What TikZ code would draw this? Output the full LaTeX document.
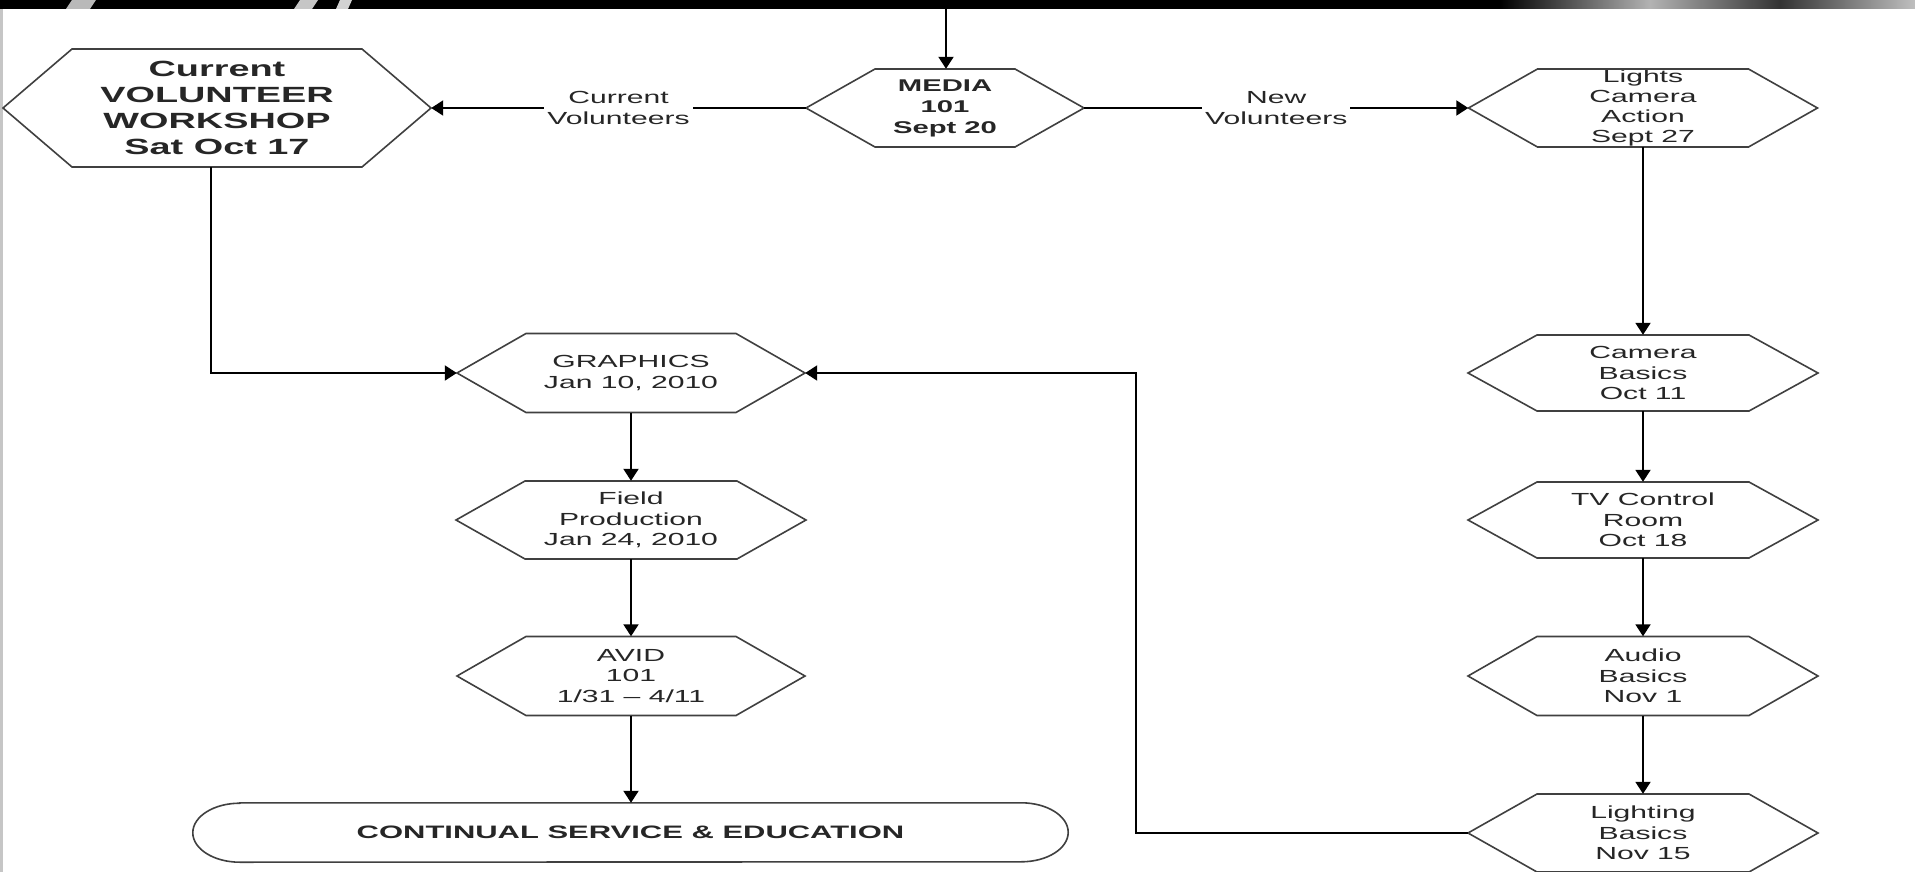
\documentclass[tikz,border=0pt]{standalone}
\usepackage{fontspec}
\setmainfont{Liberation Sans}
\newfontfamily\hexfont[FakeStretch=1.72]{Liberation Sans}
\usetikzlibrary{arrows.meta,calc}
\tikzset{
  hexnode/.style={inner sep=0pt, align=center, text=black!85, font=\hexfont\fontsize{17.5}{20.3}\selectfont},
  boldnode/.style={font=\hexfont\bfseries\fontsize{17}{21}\selectfont},
  hexline/.style={draw=black!75, line width=1.6pt, line join=miter},
  conn/.style={draw=black, line width=2pt, -{Triangle[length=12pt,width=15pt]}},
  lbl/.style={fill=white, inner sep=3pt, align=center, text=black!85, font=\hexfont\fontsize{17.5}{21}\selectfont},
}
% #1 style, #2 name, #3 x, #4 y, #5 width, #6 height, #7 slant, #8 text
\newcommand\hexshape[8]{%
  \node[hexnode,#1,minimum width=#5pt,minimum height=#6pt] (#2) at (#3,#4) {#8};
  \draw[hexline] ([shift={({-#5/2},0)}]#2.center)
    -- ([shift={({-#5/2+#7},{-#6/2})}]#2.center)
    -- ([shift={({#5/2-#7},{-#6/2})}]#2.center)
    -- ([shift={({#5/2},0)}]#2.center)
    -- ([shift={({#5/2-#7},{#6/2})}]#2.center)
    -- ([shift={({-#5/2+#7},{#6/2})}]#2.center) -- cycle;
}
\begin{document}
\begin{tikzpicture}[x=1pt,y=-1pt]
\useasboundingbox (0,0) rectangle (1915,872);
\fill[white] (0,0) rectangle (1915,872);
% dark band at the top
\fill[black] (0,0) rectangle (1915,9);
\fill[gray!55] (72,0) -- (96,0) -- (90,9) -- (66,9) -- cycle;
\fill[gray!45] (300,0) -- (318,0) -- (312,9) -- (294,9) -- cycle;
\fill[gray!35] (340,0) -- (352,0) -- (348,9) -- (336,9) -- cycle;
\shade[left color=black, right color=gray!60] (1500,0) rectangle (1650,9);
\shade[left color=gray!60, right color=black!80] (1650,0) rectangle (1780,9);
\shade[left color=black!80, right color=gray!50] (1780,0) rectangle (1915,9);
\fill[gray!45] (0,9) rectangle (3,872);

% nodes
\hexshape{font=\hexfont\bfseries\fontsize{22}{26}\selectfont}{ws}{217}{108}{428}{118}{69}{Current\\VOLUNTEER\\WORKSHOP\\Sat Oct 17}
\hexshape{boldnode}{media}{945}{108}{278}{78}{69}{MEDIA\\101\\Sept 20}
\hexshape{}{lca}{1643}{108}{349}{78}{69}{Lights\\Camera\\Action\\Sept 27}
\hexshape{}{cb}{1643}{373}{350}{76}{69}{Camera\\Basics\\Oct 11}
\hexshape{}{tv}{1643}{520}{350}{76}{69}{TV Control\\Room\\Oct 18}
\hexshape{}{audio}{1643}{676}{350}{79}{69}{Audio\\Basics\\Nov 1}
\hexshape{}{light}{1643}{833}{350}{78}{69}{Lighting\\Basics\\Nov 15}
\hexshape{}{gfx}{631}{373}{348}{79}{69}{GRAPHICS\\Jan 10, 2010}
\hexshape{}{field}{631}{520}{350}{78}{69}{Field\\Production\\Jan 24, 2010}
\hexshape{}{avid}{631}{676}{348}{79}{69}{AVID\\101\\1/31 – 4/11}

\node[hexnode, font=\hexfont\bfseries\fontsize{18}{22}\selectfont, minimum width=875pt, minimum height=59pt] (cont) at (630.5,832.5) {CONTINUAL SERVICE \& EDUCATION};
\draw[hexline] ([xshift=47pt]cont.north west) -- ([xshift=-47pt]cont.north east)
  arc[start angle=90, end angle=-90, x radius=47pt, y radius=29.5pt]
  -- ([xshift=47pt]cont.south west)
  arc[start angle=270, end angle=90, x radius=47pt, y radius=29.5pt] -- cycle;

% connectors
\coordinate (topin) at (946,9);
\draw[conn] (topin) -- (topin |- media.north);
\draw[conn] (media.west) -- node[lbl, pos=0.5] (lcur) {Current\\Volunteers} (ws.east);
\draw[conn] (media.east) -- node[lbl, pos=0.5] (lnew) {New\\Volunteers} (lca.west);
\draw[conn] (lca.south) -- (cb.north);
\draw[conn] (cb.south) -- (tv.north);
\draw[conn] (tv.south) -- (audio.north);
\draw[conn] (audio.south) -- (light.north);
\draw[conn] ([xshift=-6pt]ws.south) |- (gfx.west);
\draw[conn] (light.west) -- ++(-332,0) |- (gfx.east);
\draw[conn] (gfx.south) -- (field.north);
\draw[conn] (field.south) -- (avid.north);
\draw[conn] (avid.south) -- (avid.south |- cont.north);
\end{tikzpicture}
\end{document}
